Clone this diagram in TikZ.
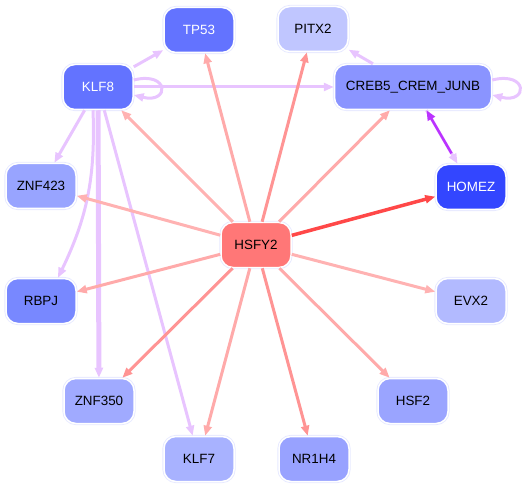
\documentclass[tikz,border=0pt]{standalone}
\usepackage{fontspec}
\setmainfont{Liberation Sans}
\usetikzlibrary{arrows.meta,calc}
\definecolor{cHSFY}{HTML}{FF7777}
\definecolor{cTP}{HTML}{6373FF}
\definecolor{cKLFeight}{HTML}{6373FF}
\definecolor{cPITX}{HTML}{C0C6FF}
\definecolor{cCREB}{HTML}{8A94FF}
\definecolor{cZNFa}{HTML}{98A4FF}
\definecolor{cRBPJ}{HTML}{7888FF}
\definecolor{cHOMEZ}{HTML}{3346FF}
\definecolor{cEVX}{HTML}{B2BAFF}
\definecolor{cZNFb}{HTML}{A0AAFF}
\definecolor{cKLFseven}{HTML}{A8B2FF}
\definecolor{cNR}{HTML}{98A2FF}
\definecolor{cHSF}{HTML}{9AA4FF}
\definecolor{ring}{HTML}{E6E9FF}
\definecolor{lav}{HTML}{E8C4FF}
\definecolor{purp}{HTML}{BB33FF}
\definecolor{rA}{HTML}{FFAAAA}
\definecolor{rB}{HTML}{FF9494}
\definecolor{rC}{HTML}{FFB2B2}
\definecolor{rD}{HTML}{FF4848}
\tikzset{
  tf/.style={rectangle, rounded corners=12pt, minimum width=70pt, minimum height=45pt,
    inner sep=2pt, font=\fontsize{13.4}{15}\selectfont, draw=white, line width=1.5pt,
    preaction={draw=ring, line width=3.2pt}},
  wtxt/.style={text=white},
  edg/.style={line width=3pt, -{Triangle[length=10pt,width=8pt]}},
}
\begin{document}
\begin{tikzpicture}[x=1pt,y=-1pt]
\useasboundingbox (0,0) rectangle (522,489);
% nodes
\node[tf, fill=cTP, wtxt] (tp53) at (199,30) {TP53};
\node[tf, fill=cPITX] (pitx2) at (313,29) {PITX2};
\node[tf, fill=cKLFeight, wtxt] (klf8) at (98,87) {KLF8};
\node[tf, fill=cCREB, minimum width=157pt] (creb5) at (413,87) {CREB5\_CREM\_JUNB};
\node[tf, fill=cZNFa] (znf423) at (41,186) {ZNF423};
\node[tf, fill=cHOMEZ, wtxt] (homez) at (471,187) {HOMEZ};
\node[tf, fill=cHSFY] (hsfy2) at (256,245) {HSFY2};
\node[tf, fill=cRBPJ] (rbpj) at (41,301) {RBPJ};
\node[tf, fill=cEVX] (evx2) at (471,301) {EVX2};
\node[tf, fill=cZNFb] (znf350) at (99,401) {ZNF350};
\node[tf, fill=cHSF] (hsf2) at (413,401) {HSF2};
\node[tf, fill=cKLFseven] (klf7) at (199,459) {KLF7};
\node[tf, fill=cNR] (nr1h4) at (314,459) {NR1H4};
% KLF8 edges
\draw[edg, lav] (klf8) -- (tp53);
\draw[edg, lav] ($(klf8.east)+(0,-7)$) .. controls +(36,-9) and +(36,9) .. ($(klf8.east)+(0,8)$);
\draw[edg, lav] (klf8) -- (creb5);
\draw[edg, lav] (klf8) -- (znf423);
\draw[edg, lav] ($(klf8.south)+(-5,0)$) to[bend left=14] ($(rbpj.north)+(17,0)$);
\draw[edg, lav, line width=5pt] (klf8) -- (znf350);
\draw[edg, lav] (klf8) -- (klf7);
% CREB5 edges
\draw[edg, lav] (creb5) -- (pitx2);
\draw[edg, lav] ($(creb5.east)+(0,-7)$) .. controls +(36,-9) and +(36,9) .. ($(creb5.east)+(0,8)$);
\draw[edg, lav] (creb5) -- (homez);
\draw[edg, purp, line width=2.5pt, shorten <=12pt] (homez) -- (creb5);
% HSFY2 edges
\draw[edg, rA] (hsfy2) -- (tp53);
\draw[edg, rB] (hsfy2) -- (pitx2);
\draw[edg, rA] (hsfy2) -- (creb5);
\draw[edg, rD, line width=3.5pt] (hsfy2) -- (homez);
\draw[edg, rC] (hsfy2) -- (evx2);
\draw[edg, rA] (hsfy2) -- (hsf2);
\draw[edg, rB] (hsfy2) -- (nr1h4);
\draw[edg, rA] (hsfy2) -- (klf7);
\draw[edg, rB] (hsfy2) -- (znf350);
\draw[edg, rA] (hsfy2) -- (rbpj);
\draw[edg, rC] (hsfy2) -- (znf423);
\draw[edg, rC] (hsfy2) -- (klf8);
\end{tikzpicture}
\end{document}
